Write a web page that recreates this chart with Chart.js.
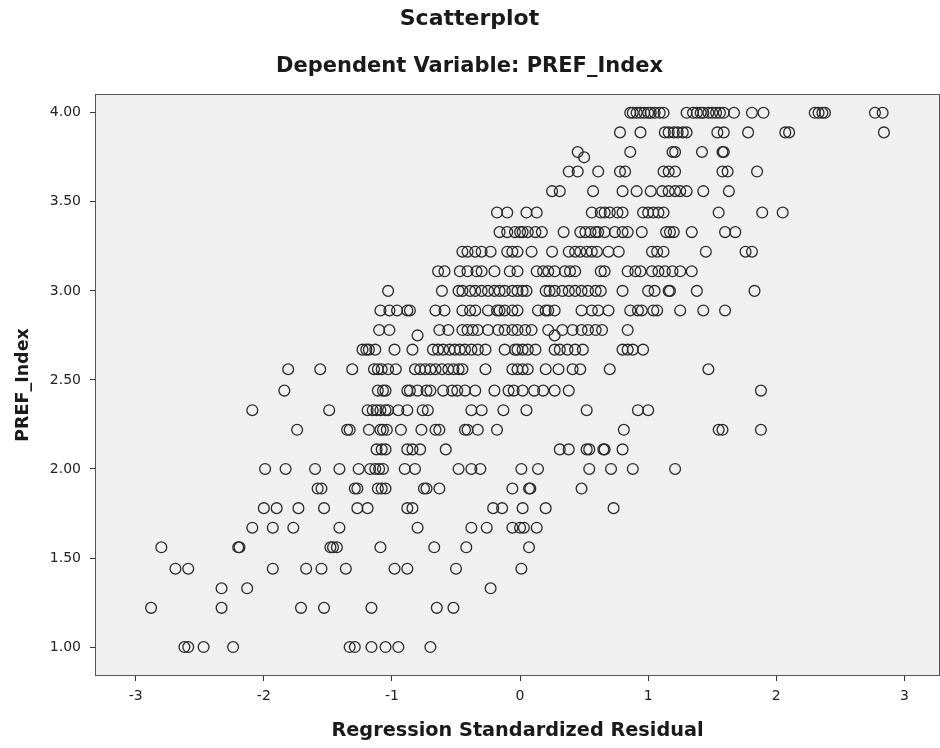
<!DOCTYPE html>
<html><head><meta charset="utf-8">
<script src="https://cdn.jsdelivr.net/npm/chart.js@4.4.1/dist/chart.umd.min.js"></script>
<style>html,body{margin:0;padding:0;background:#fff}#wrap{width:940px;height:748px}</style>
</head><body><div id="wrap"><canvas id="c" width="940" height="748"></canvas></div>
<script>
const chartTitle = 'Scatterplot';
const chartSubtitle = 'Dependent Variable: PREF_Index';
const xAxisTitle = 'Regression Standardized Residual';
const yAxisTitle = 'PREF_Index';
const xTicks = [-3, -2, -1, 0, 1, 2, 3];
const yTicks = [1.0, 1.5, 2.0, 2.5, 3.0, 3.5, 4.0];

// PREF_Index levels and the standardized residuals observed at each level
const prefLevels = [1.00, 1.22, 1.33, 1.44, 1.56, 1.67, 1.78, 1.89, 2.00, 2.11, 2.22, 2.33, 2.44, 2.56, 2.67, 2.78, 2.89, 3.00, 3.11, 3.22, 3.33, 3.44, 3.56, 3.67, 3.78, 3.89, 4.00];
const res100 = [-2.62,-2.59,-2.47,-2.24,-1.33,-1.29,-1.16,-1.05,-0.95,-0.70];
const res122 = [-2.88,-2.33,-1.71,-1.53,-1.16,-0.65,-0.52];
const res133 = [-2.33,-2.13,-0.23];
const res144 = [-2.69,-2.59,-1.93,-1.67,-1.55,-1.36,-0.98,-0.88,-0.50,0.01];
const res156 = [-2.80,-2.20,-2.19,-1.48,-1.46,-1.43,-1.09,-0.67,-0.42,0.07];
const res167 = [-2.09,-1.93,-1.77,-1.41,-0.80,-0.38,-0.26,-0.06,0.00,0.03,0.13];
const res178 = [-2.00,-1.90,-1.73,-1.53,-1.27,-1.19,-0.88,-0.84,-0.21,-0.14,0.02,0.20,0.73];
const res189 = [-1.58,-1.55,-1.29,-1.27,-1.11,-1.08,-1.05,-0.75,-0.73,-0.63,-0.06,0.07,0.08,0.48];
const res200 = [-1.99,-1.83,-1.60,-1.41,-1.26,-1.17,-1.13,-1.10,-1.07,-0.90,-0.82,-0.48,-0.38,-0.31,0.01,0.14,0.54,0.71,0.88,1.21];
const res211 = [-1.12,-1.08,-1.05,-0.88,-0.84,-0.78,-0.58,0.31,0.38,0.52,0.54,0.65,0.66,0.80];
const res222 = [-1.74,-1.35,-1.33,-1.18,-1.09,-1.07,-1.04,-0.93,-0.77,-0.66,-0.63,-0.43,-0.41,-0.33,-0.18,0.81,1.55,1.58,1.88];
const res233 = [-2.09,-1.49,-1.19,-1.15,-1.12,-1.09,-1.05,-1.03,-0.95,-0.88,-0.76,-0.72,-0.38,-0.30,-0.13,0.05,0.52,0.92,1.00];
const res244 = [-1.84,-1.11,-1.07,-1.05,-0.88,-0.86,-0.80,-0.73,-0.70,-0.60,-0.53,-0.49,-0.43,-0.35,-0.20,-0.09,-0.05,0.02,0.11,0.18,0.27,0.38,1.88];
const res256 = [-1.81,-1.56,-1.31,-1.14,-1.11,-1.08,-1.03,-0.97,-0.82,-0.78,-0.74,-0.70,-0.66,-0.61,-0.56,-0.52,-0.48,-0.45,-0.27,-0.06,-0.02,0.02,0.06,0.20,0.30,0.41,0.47,0.70,1.47];
const res267 = [-1.23,-1.20,-1.18,-1.13,-0.98,-0.84,-0.68,-0.64,-0.60,-0.55,-0.51,-0.47,-0.43,-0.38,-0.33,-0.27,-0.12,-0.04,-0.02,0.02,0.06,0.12,0.27,0.31,0.37,0.43,0.49,0.80,0.84,0.88,0.96];
const res278 = [-1.10,-1.02,-0.63,-0.56,-0.45,-0.41,-0.37,-0.33,-0.25,-0.17,-0.12,-0.06,-0.02,0.04,0.09,0.22,0.33,0.41,0.48,0.53,0.59,0.64,0.84];
const res289 = [-1.09,-1.02,-0.96,-0.88,-0.86,-0.66,-0.59,-0.45,-0.39,-0.35,-0.25,-0.18,-0.16,-0.12,-0.06,-0.02,0.14,0.20,0.22,0.27,0.48,0.56,0.61,0.69,0.86,0.92,0.95,1.04,1.07,1.25,1.43,1.60];
const res300 = [-1.03,-0.61,-0.48,-0.45,-0.39,-0.35,-0.30,-0.25,-0.20,-0.16,-0.12,-0.06,-0.02,0.02,0.05,0.20,0.23,0.27,0.33,0.38,0.43,0.48,0.53,0.59,0.63,0.80,1.00,1.05,1.16,1.17,1.38,1.83];
const res311 = [-0.64,-0.59,-0.47,-0.41,-0.34,-0.30,-0.20,-0.08,-0.02,0.13,0.18,0.22,0.27,0.35,0.39,0.43,0.63,0.66,0.84,0.90,0.94,1.03,1.08,1.13,1.19,1.25,1.34];
const res322 = [-0.45,-0.41,-0.35,-0.30,-0.23,-0.10,-0.06,-0.02,0.09,0.25,0.38,0.43,0.47,0.52,0.56,0.60,0.69,0.77,1.03,1.07,1.12,1.45,1.76,1.81];
const res333 = [-0.16,-0.10,-0.04,0.00,0.02,0.06,0.12,0.17,0.34,0.47,0.51,0.55,0.59,0.61,0.66,0.74,0.80,0.84,0.95,1.14,1.17,1.20,1.34,1.60,1.68];
const res344 = [-0.18,-0.10,0.05,0.13,0.56,0.63,0.66,0.70,0.76,0.80,0.96,1.00,1.04,1.08,1.12,1.55,1.89,2.05];
const res356 = [0.25,0.31,0.57,0.80,0.91,1.02,1.11,1.16,1.21,1.25,1.30,1.43,1.63];
const res367 = [0.38,0.45,0.61,0.78,0.82,1.12,1.16,1.21,1.58,1.62,1.85];
const res378 = [0.45,0.86,1.19,1.21,1.42,1.58,1.59];
const res389 = [0.78,0.94,1.13,1.16,1.20,1.23,1.27,1.30,1.54,1.59,1.78,2.07,2.10,2.84];
const res400 = [0.86,0.88,0.91,0.94,0.97,1.00,1.02,1.05,1.09,1.12,1.30,1.35,1.38,1.41,1.43,1.47,1.50,1.53,1.56,1.59,1.67,1.81,1.90,2.30,2.33,2.36,2.38,2.77,2.83];
// a few cases lying between the regular levels
const offLevelResidual = [-0.80, 0.27, 0.50];
const offLevelPref = [2.75, 2.75, 3.75];

const residualsByLevel = [res100,res122,res133,res144,res156,res167,res178,res189,res200,res211,res222,res233,res244,res256,res267,res278,res289,res300,res311,res322,res333,res344,res356,res367,res378,res389,res400];

const points = [];
residualsByLevel.forEach((arr, i) => arr.forEach(x => points.push({x: x, y: prefLevels[i]})));
offLevelResidual.forEach((x, i) => points.push({x: x, y: offLevelPref[i]}));

const FONT = "'DejaVu Sans', sans-serif";
const INK = '#1a1a1a';

const plotFrame = {
  id: 'plotFrame',
  beforeDraw(chart) {
    const {ctx, chartArea: a} = chart;
    ctx.save();
    ctx.fillStyle = '#f0f0f0';
    ctx.fillRect(a.left, a.top, a.right - a.left, a.bottom - a.top);
    ctx.restore();
  },
  afterDraw(chart) {
    const {ctx, chartArea: a} = chart;
    ctx.save();
    ctx.strokeStyle = '#555';
    ctx.lineWidth = 1;
    ctx.strokeRect(Math.round(a.left) - 0.5, Math.round(a.top) - 0.5, Math.round(a.right - a.left) + 1, Math.round(a.bottom - a.top) + 1);
    ctx.restore();
  }
};

new Chart(document.getElementById('c'), {
  type: 'scatter',
  data: {
    datasets: [{
      data: points,
      pointStyle: 'circle',
      pointRadius: 5.4,
      pointHoverRadius: 5.4,
      pointBorderWidth: 1.3,
      pointBackgroundColor: 'rgba(0,0,0,0)',
      pointBorderColor: '#2a2a2a'
    }]
  },
  plugins: [plotFrame],
  options: {
    responsive: false,
    animation: false,
    devicePixelRatio: 1,
    events: [],
    layout: {autoPadding: false, padding: {left: 0, right: 1, top: 0, bottom: 0}},
    plugins: {
      legend: {display: false},
      tooltip: {enabled: false},
      title: {
        display: true, text: chartTitle, color: INK,
        font: {family: FONT, size: 22, weight: 'bold'},
        padding: {top: 6, bottom: 10}
      },
      subtitle: {
        display: true, text: chartSubtitle, color: INK,
        font: {family: FONT, size: 21, weight: 'bold'},
        padding: {top: 12, bottom: 15.4}
      }
    },
    scales: {
      x: {
        type: 'linear', position: 'bottom',
        min: -3.31, max: 3.27,
        afterBuildTicks: s => { s.ticks = xTicks.map(v => ({value: v})); },
        afterFit: s => { s.height = 73; s.paddingLeft = 0; s.paddingRight = 0; },
        grid: {drawOnChartArea: false, drawTicks: true, tickLength: 6, tickColor: '#333', tickWidth: 1},
        border: {display: false},
        ticks: {color: '#222', font: {family: FONT, size: 14}, padding: 7, maxRotation: 0,
                callback: v => String(v)},
        title: {display: true, text: xAxisTitle, color: INK,
                font: {family: FONT, size: 19.3, weight: 'bold'}, padding: {top: 0, bottom: 5}}
      },
      y: {
        type: 'linear', position: 'left',
        min: 0.843, max: 4.10,
        afterBuildTicks: s => { s.ticks = yTicks.map(v => ({value: v})); },
        afterFit: s => { s.width = 96; s.paddingTop = 0; s.paddingBottom = 0; },
        grid: {drawOnChartArea: false, drawTicks: true, tickLength: 6, tickColor: '#333', tickWidth: 1},
        border: {display: false},
        ticks: {color: '#222', font: {family: FONT, size: 14}, padding: 9,
                callback: v => Number(v).toFixed(2)},
        title: {display: true, text: yAxisTitle, color: INK,
                font: {family: FONT, size: 17.5, weight: 'bold'}, padding: {top: 12.5, bottom: 0}}
      }
    }
  }
});
</script>
</body></html>
